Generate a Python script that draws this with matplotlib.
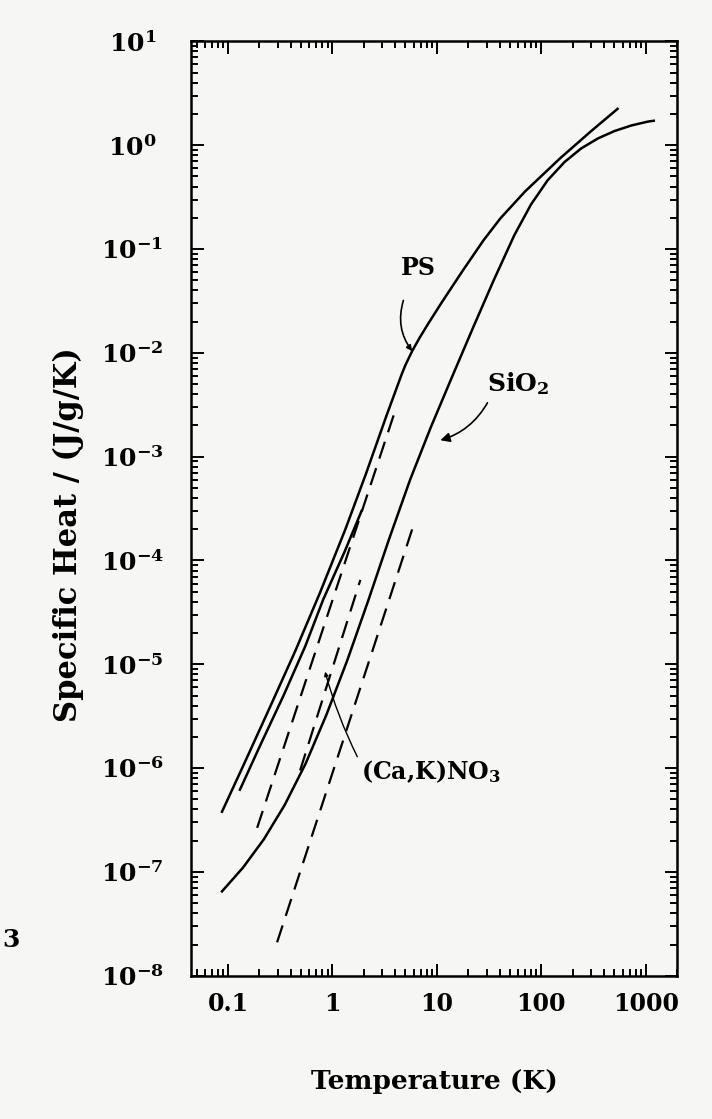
import matplotlib.pyplot as plt
from matplotlib.ticker import LogLocator, NullFormatter

# measured specific heat (solid curves), T in K, C in J/g/K
ps_T = [0.0875, 0.146, 0.253, 0.44, 0.76, 1.33, 2.1, 3.3, 4.6, 5.0, 5.8,
        6.8, 8.1, 11.2, 17.5, 27.9, 40.6, 70, 153, 300, 538]
ps_C = [3.8e-7, 1.16e-6, 3.9e-6, 1.34e-5, 4.9e-5, 2.0e-4, 6.9e-4, 2.5e-3,
        6.2e-3, 7.64e-3, 1.04e-2, 1.385e-2, 1.85e-2, 3.09e-2, 6.09e-2, 0.121,
        0.1975, 0.359, 0.755, 1.366, 2.24]

sio2_T = [0.0875, 0.139, 0.22, 0.348, 0.552, 0.875, 1.39, 2.2, 3.48, 5.52,
          8.75, 13.9, 22, 34.8, 55.2, 79.8, 115, 167, 241, 348, 504, 728, 1052, 1195]
sio2_C = [6.5e-8, 1.1e-7, 2.06e-7, 4.4e-7, 1.1e-6, 3.26e-6, 1.1e-5, 4.1e-5,
          1.6e-4, 5.93e-4, 1.92e-3, 5.79e-3, 1.71e-2, 4.93e-2, 0.136, 0.269,
          0.459, 0.689, 0.931, 1.161, 1.371, 1.549, 1.69, 1.72]

cak_T = [0.13, 0.2, 0.34, 0.55, 0.815, 1.3, 1.9]
cak_C = [6.2e-7, 1.6e-6, 5.0e-6, 1.5e-5, 4.2e-5, 1.2e-4, 3.0e-4]

# Debye contributions (dashed lines)
ps_debye_T = [0.19, 4.0]
ps_debye_C = [2.66e-7, 2.8e-3]
cak_debye_T = [0.49, 1.85]
cak_debye_C = [9.5e-7, 6.5e-5]
sio2_debye_T = [0.295, 6.2]
sio2_debye_C = [2.1e-8, 2.45e-4]

plt.rcParams['font.family'] = 'DejaVu Serif'
plt.rcParams['font.weight'] = 'bold'
plt.rcParams['axes.labelweight'] = 'bold'
plt.rcParams['mathtext.fontset'] = 'dejavuserif'
plt.rcParams['mathtext.default'] = 'bf'

bg = '#f6f6f4'
fig = plt.figure(figsize=(7.12, 11.19), dpi=100, facecolor=bg)
ax = fig.add_axes([0.268, 0.128, 0.683, 0.835], facecolor=bg)

ax.plot(ps_T, ps_C, 'k-', lw=1.8)
ax.plot(sio2_T, sio2_C, 'k-', lw=1.8)
ax.plot(cak_T, cak_C, 'k-', lw=1.8)
for T, C in [(ps_debye_T, ps_debye_C), (cak_debye_T, cak_debye_C),
             (sio2_debye_T, sio2_debye_C)]:
    ax.plot(T, C, 'k-', lw=1.6, dashes=(8, 4.5))

ax.set_xscale('log')
ax.set_yscale('log')
ax.set_xlim(0.044, 2000)
ax.set_ylim(1e-8, 10)

ax.set_xticks([0.1, 1, 10, 100, 1000])
ax.set_xticklabels(['0.1', '1', '10', '100', '1000'])
ax.xaxis.set_minor_locator(LogLocator(base=10, subs=range(2, 10), numticks=20))
ax.xaxis.set_minor_formatter(NullFormatter())
ax.yaxis.set_major_locator(LogLocator(base=10, numticks=20))
ax.yaxis.set_minor_locator(LogLocator(base=10, subs=range(2, 10), numticks=20))
ax.yaxis.set_minor_formatter(NullFormatter())

ax.tick_params(which='both', direction='in', top=True, right=True, width=1.4)
ax.tick_params(which='major', length=9)
ax.tick_params(which='minor', length=5)
ax.tick_params(axis='x', which='major', labelsize=17, pad=12)
ax.tick_params(axis='y', which='major', labelsize=18, pad=42)
for lab in ax.get_yticklabels():
    lab.set_horizontalalignment('center')
for s in ax.spines.values():
    s.set_linewidth(1.8)

ax.set_xlabel('Temperature (K)', fontsize=19, labelpad=38)
ax.set_ylabel('Specific Heat / (J/g/K)', fontsize=22)
ax.yaxis.set_label_coords(-0.22, 0.472)

arrow = dict(arrowstyle='-|>', color='k', lw=1.2, shrinkA=0, shrinkB=0)
ax.text(6.65, 0.065, 'PS', fontsize=17, ha='center', va='center')
ax.annotate('', xy=(5.8, 0.0104), xytext=(4.78, 0.032),
            arrowprops=dict(arrow, mutation_scale=8, connectionstyle='arc3,rad=0.25'))
ax.text(30.5, 5.1e-3, 'SiO$_2$', fontsize=18, ha='left', va='center')
ax.annotate('', xy=(10.8, 1.44e-3), xytext=(30.5, 3.3e-3),
            arrowprops=dict(arrow, mutation_scale=14, connectionstyle='arc3,rad=-0.2'))
ax.text(1.89, 9.2e-7, '(Ca,K)NO$_3$', fontsize=17, ha='left', va='center')
ax.annotate('', xy=(0.85, 8.5e-6), xytext=(1.73, 1.29e-6),
            arrowprops=dict(arrow, lw=1.0, mutation_scale=6,
                            connectionstyle='arc3,rad=-0.05'))

fig.text(0.003, 1 - 940 / 1119, '3', fontsize=18, va='center', ha='left')

fig.savefig('out.png', dpi=100, facecolor=fig.get_facecolor())
